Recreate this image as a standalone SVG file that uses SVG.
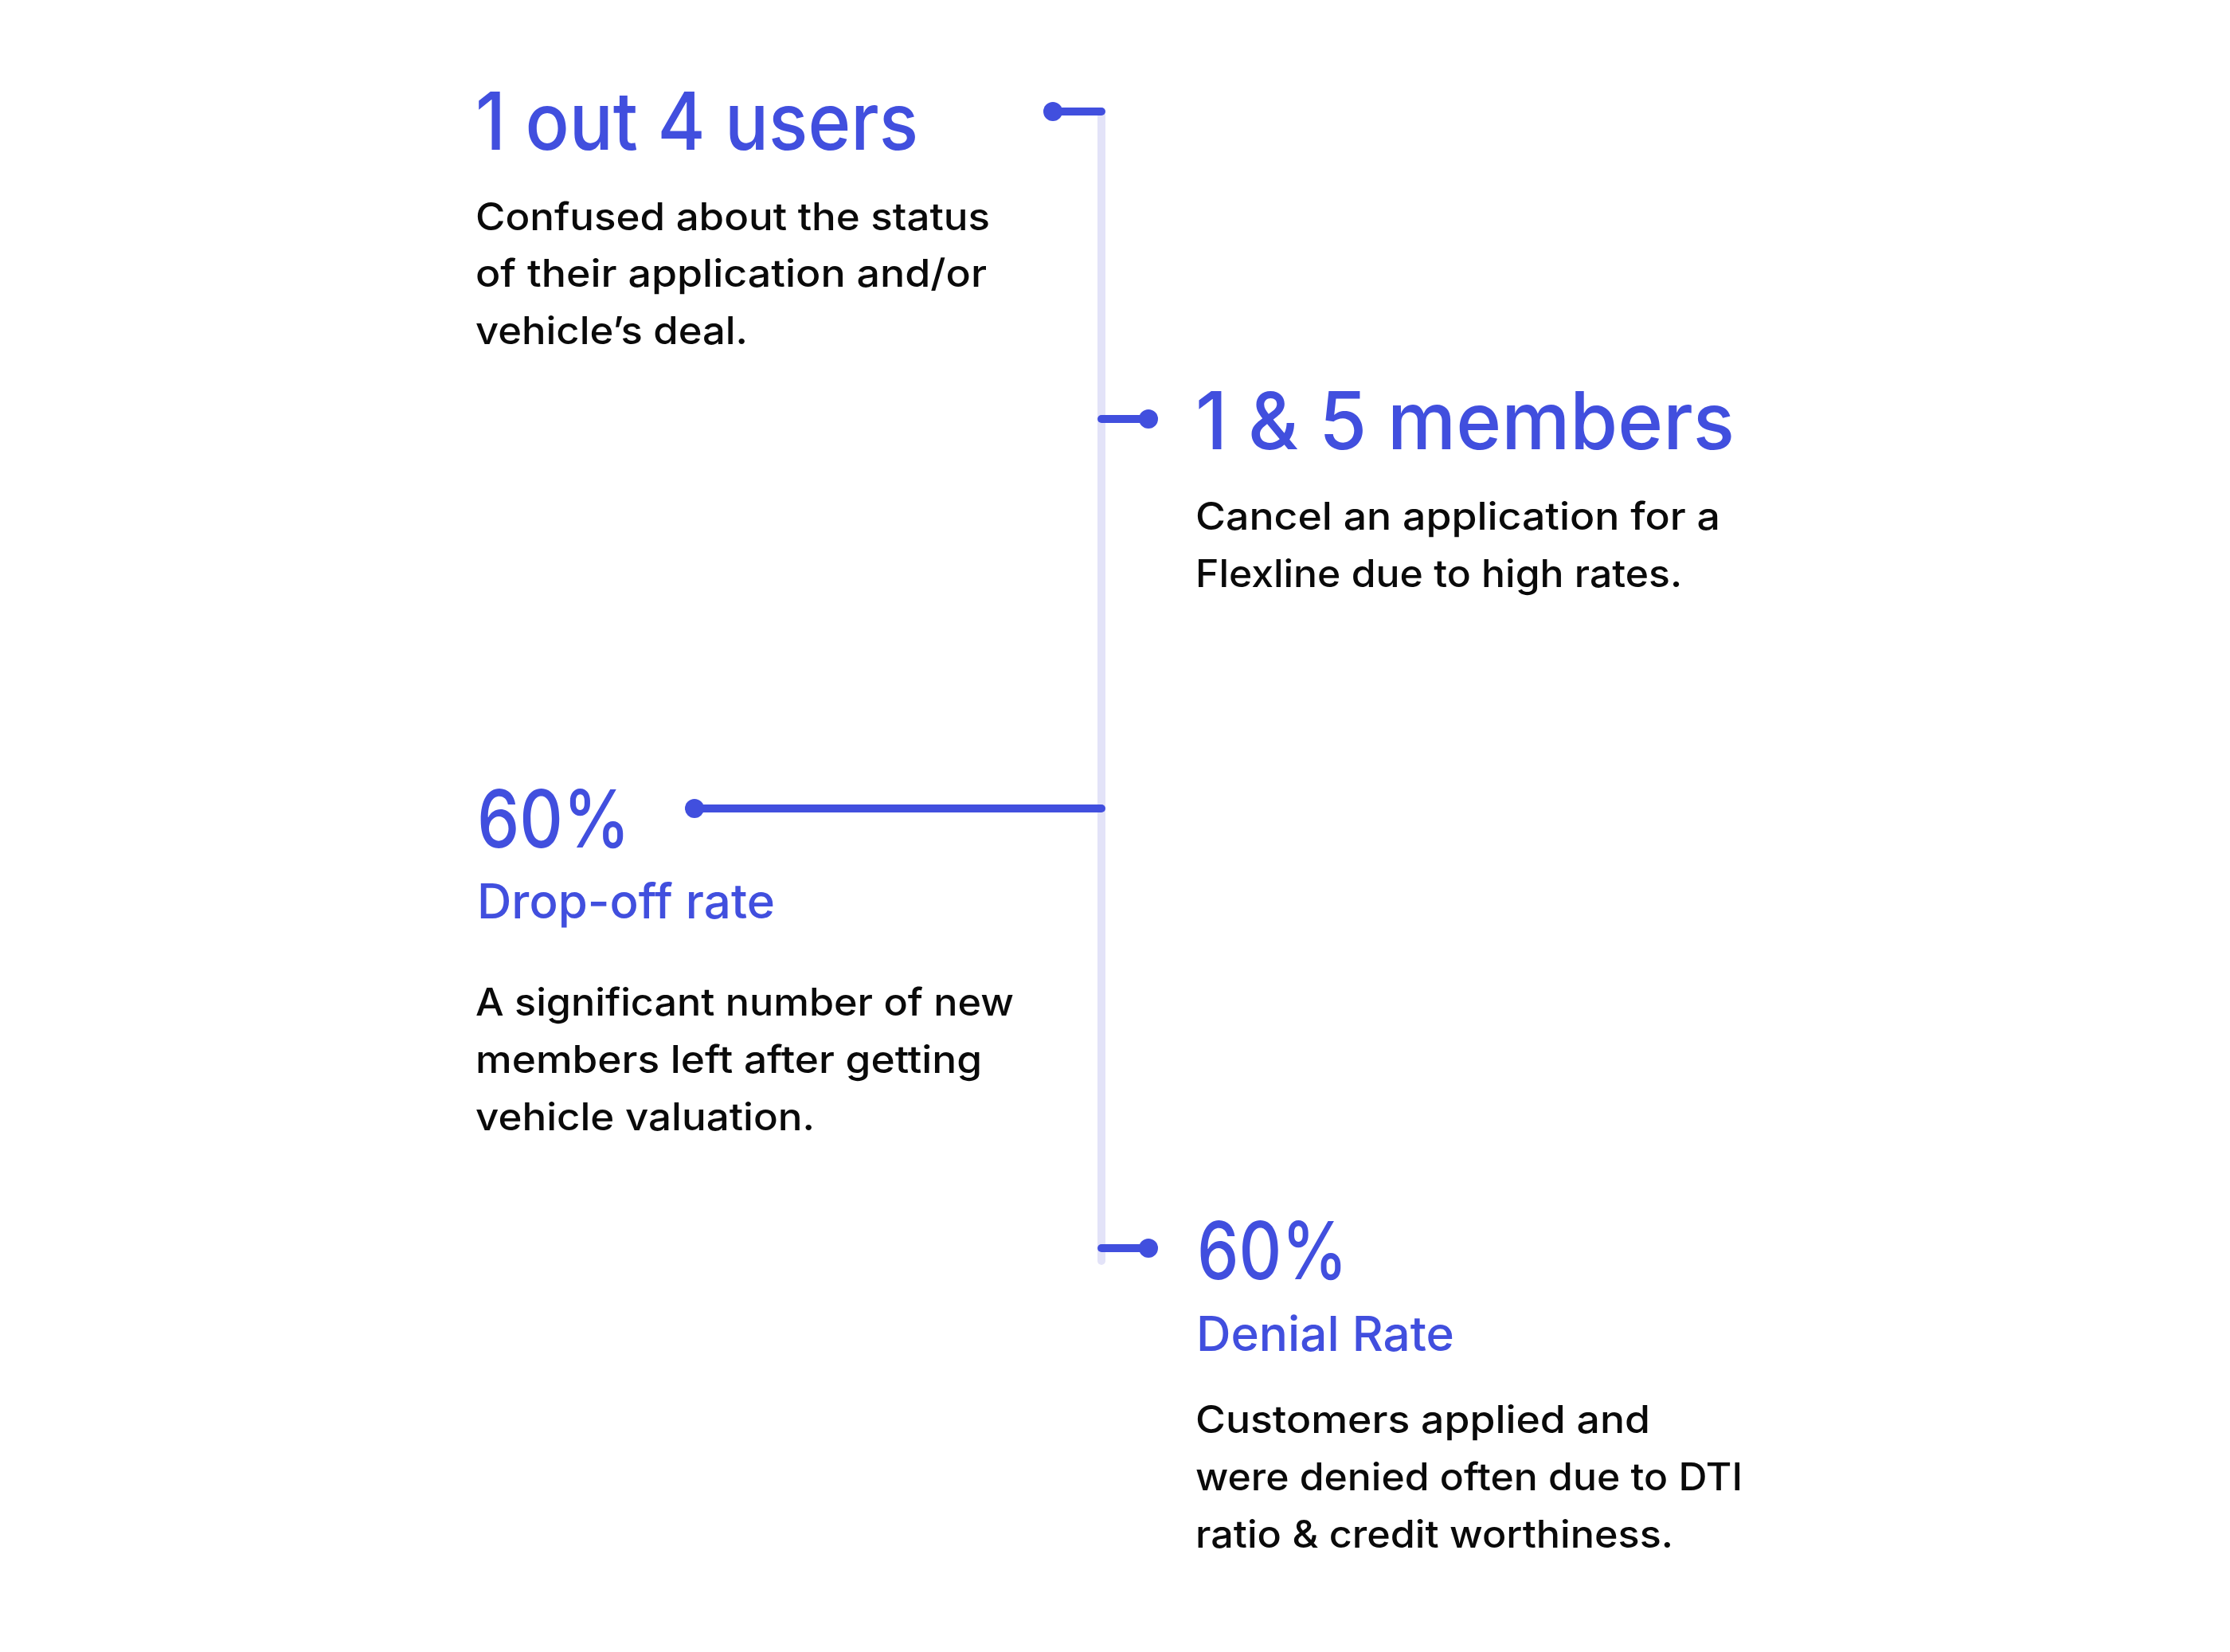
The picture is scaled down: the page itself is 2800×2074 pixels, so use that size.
<svg xmlns="http://www.w3.org/2000/svg" width="2800" height="2074" viewBox="0 0 2800 2074">
<style>
  text { font-family: "Inter", "Noto Sans", "Liberation Sans", sans-serif; }
  .h1 { font-size: 100px; font-weight: 500; fill: #414FDE; }
  .h2 { font-size: 60px; font-weight: 500; fill: #414FDE; }
  .body { font-size: 48px; font-weight: 500; fill: #0A0A0A; }
  .spine { stroke: #E3E3F8; stroke-width: 10; stroke-linecap: round; fill: none; }
  .link { stroke: #414FDE; stroke-width: 10; stroke-linecap: round; fill: none; }
  .dot { fill: #414FDE; }
</style>
<rect width="2800" height="2074" fill="#FFFFFF"/>
<g id="connectors">
  <line class="spine" x1="1383" y1="145" x2="1383" y2="1583"/>
  <line class="link" x1="1322" y1="140" x2="1383" y2="140"/>
  <circle class="dot" cx="1322" cy="140" r="12"/>
  <line class="link" x1="1383" y1="526" x2="1442" y2="526"/>
  <circle class="dot" cx="1442" cy="526" r="12"/>
  <line class="link" x1="872" y1="1015" x2="1383" y2="1015"/>
  <circle class="dot" cx="872" cy="1015" r="12"/>
  <line class="link" x1="1383" y1="1567" x2="1442" y2="1567"/>
  <circle class="dot" cx="1442" cy="1567" r="12"/>
</g>
<g id="node-users">
  <text class="h1" x="597" y="188" textLength="556" lengthAdjust="spacingAndGlyphs">1 out 4 users</text>
  <text class="body" x="597" y="289" textLength="646" lengthAdjust="spacingAndGlyphs">Confused about the status</text>
  <text class="body" x="597" y="360" textLength="642" lengthAdjust="spacingAndGlyphs">of their application and/or</text>
  <text class="body" x="597" y="432" textLength="342" lengthAdjust="spacingAndGlyphs">vehicle’s deal.</text>
</g>
<g id="node-members">
  <text class="h1" x="1501" y="564" textLength="677" lengthAdjust="spacingAndGlyphs">1 &amp; 5 members</text>
  <text class="body" x="1501" y="665" textLength="659" lengthAdjust="spacingAndGlyphs">Cancel an application for a</text>
  <text class="body" x="1501" y="737" textLength="611" lengthAdjust="spacingAndGlyphs">Flexline due to high rates.</text>
</g>
<g id="node-dropoff">
  <text class="h1" x="599" y="1064" textLength="192" lengthAdjust="spacingAndGlyphs">60%</text>
  <text class="h2" x="599" y="1153" textLength="374" lengthAdjust="spacingAndGlyphs">Drop-off rate</text>
  <text class="body" x="597" y="1275" textLength="676" lengthAdjust="spacingAndGlyphs">A significant number of new</text>
  <text class="body" x="597" y="1347" textLength="636" lengthAdjust="spacingAndGlyphs">members left after getting</text>
  <text class="body" x="597" y="1419" textLength="426" lengthAdjust="spacingAndGlyphs">vehicle valuation.</text>
</g>
<g id="node-denial">
  <text class="h1" x="1503" y="1606" textLength="189" lengthAdjust="spacingAndGlyphs">60%</text>
  <text class="h2" x="1502" y="1696" textLength="324" lengthAdjust="spacingAndGlyphs">Denial Rate</text>
  <text class="body" x="1501" y="1799" textLength="571" lengthAdjust="spacingAndGlyphs">Customers applied and</text>
  <text class="body" x="1501" y="1871" textLength="687" lengthAdjust="spacingAndGlyphs">were denied often due to DTI</text>
  <text class="body" x="1501" y="1943" textLength="600" lengthAdjust="spacingAndGlyphs">ratio &amp; credit worthiness.</text>
</g>
</svg>
